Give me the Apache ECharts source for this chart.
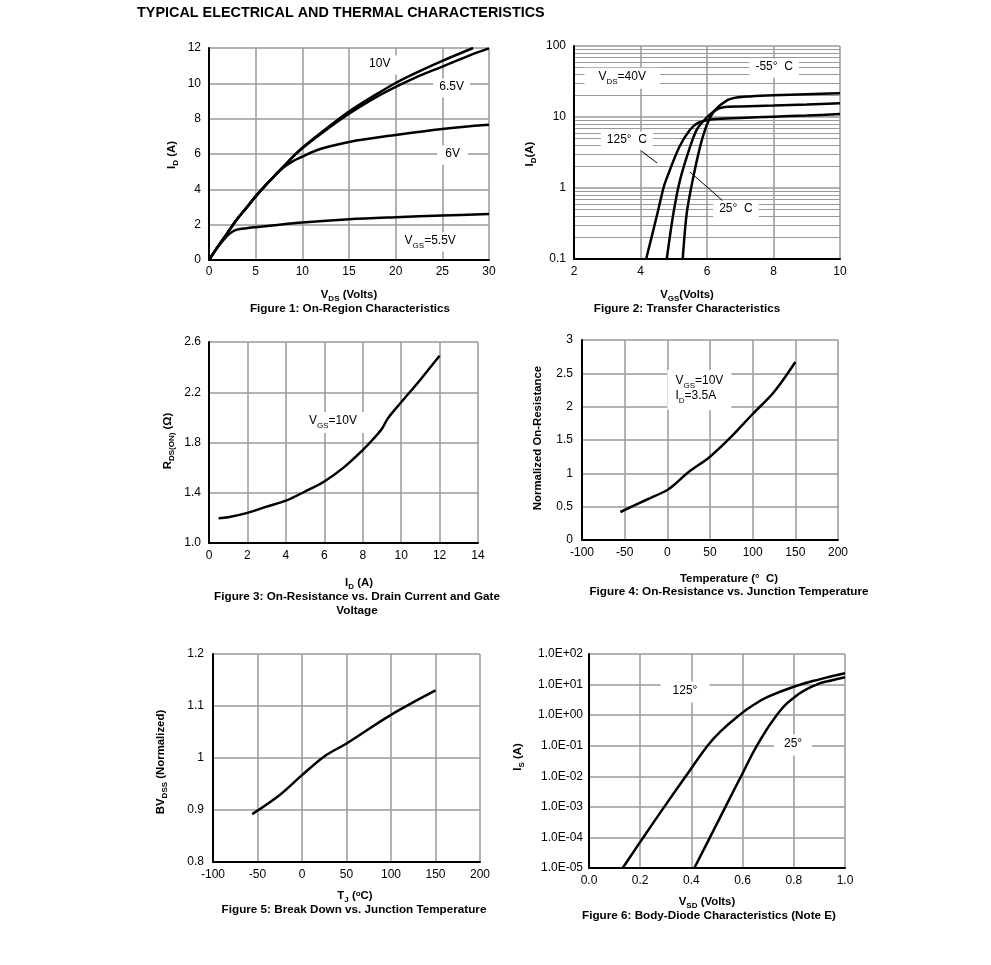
<!DOCTYPE html>
<html><head><meta charset="utf-8">
<script src="https://cdn.jsdelivr.net/npm/echarts@6/dist/echarts.min.js"></script>
<style>html,body{margin:0;padding:0;background:#fff}#c{width:991px;height:965px}</style>
</head><body><div id="c"></div>
<script>
// ---------------- DATA ----------------
// Figure 1: On-Region Characteristics  [VDS (V), ID (A)]
const f1_vgs10 = [[0,0],[1,0.8],[2,1.55],[3,2.3],[4,2.95],[5,3.6],[6,4.2],[7,4.75],[8,5.3],[9,5.85],[10,6.35],[12,7.2],[15,8.4],[18,9.4],[20,10.02],[22,10.55],[25,11.27],[28.3,12]];
const f1_vgs65 = [[0,0],[1,0.8],[2,1.55],[3,2.3],[4,2.95],[5,3.6],[6,4.2],[7,4.75],[8,5.3],[9,5.85],[10,6.33],[12,7.15],[15,8.28],[18,9.25],[20,9.8],[22,10.3],[25,10.95],[28,11.6],[30,11.98]];
const f1_vgs6  = [[0,0],[1,0.8],[2,1.55],[3,2.3],[4,2.95],[5,3.6],[6,4.2],[7,4.75],[8,5.25],[9,5.6],[10,5.85],[11,6.1],[12,6.3],[15,6.68],[20,7.08],[25,7.42],[30,7.65]];
const f1_vgs55 = [[0,0],[1,0.78],[2,1.4],[2.5,1.6],[3,1.72],[4,1.8],[5,1.86],[7,1.97],[10,2.12],[15,2.3],[20,2.42],[25,2.52],[30,2.6]];
// Figure 2: Transfer Characteristics [VGS (V), ID (A)]
const f2_m55 = [[5.27,0.1],[5.39,0.44],[5.57,1.3],[5.79,3.8],[5.94,6.6],[6.07,9.3],[6.24,12.5],[6.59,17.0],[6.89,18.8],[7.3,19.5],[8,20.2],[9,20.9],[10,21.6]];
const f2_25  = [[4.79,0.1],[4.99,0.44],[5.19,1.3],[5.49,3.8],[5.69,6.6],[5.94,9.3],[6.24,12.3],[6.49,13.7],[7,14.1],[8,14.5],[9,15.0],[10,15.6]];
const f2_125 = [[4.17,0.1],[4.51,0.44],[4.69,1],[4.77,1.3],[5.17,3.8],[5.49,6.6],[5.74,8.3],[6.18,9.3],[7,9.7],[8,10.1],[9,10.5],[10,11.0]];
const f2_minorGrid = [0.2,0.3,0.4,0.5,0.6,0.7,0.8,0.9,2,3,4,5,6,7,8,9,20,30,40,50,60,70,80,90];
const f2_yTicks = {'-1':'0.1','0':'1','1':'10','2':'100'};
// Figure 3: On-Resistance vs Drain Current [ID (A), RDS(ON) (ohm)]
const f3_rds = [[0.5,1.197],[1,1.205],[2,1.24],[3,1.29],[4,1.337],[5,1.41],[6,1.49],[7,1.6],[8,1.74],[8.5,1.82],[9,1.91],[9.3,1.99],[10,2.12],[11,2.3],[12,2.49]];
// Figure 4: Normalized On-Resistance vs Temperature
const f4_ron = [[-55,0.42],[-25,0.6],[0,0.75],[10,0.85],[25,1.02],[50,1.25],[75,1.55],[100,1.89],[125,2.22],[150,2.67]];
// Figure 5: BVDSS vs Junction Temperature
const f5_bv = [[-56,0.892],[-25,0.929],[0,0.967],[25,1.003],[50,1.028],[100,1.083],[150,1.13]];
// Figure 6: Body-Diode Characteristics [VSD (V), IS (A)]
const f6_125 = [[0.1316,1e-5],[0.212,1e-4],[0.294,1e-3],[0.378,1e-2],[0.463,1e-1],[0.515,0.3],[0.587,1],[0.642,2.14],[0.70,4.02],[0.8,8.5],[0.9,14.8],[1.0,23.4]];
const f6_25  = [[0.4115,1e-5],[0.4725,1e-4],[0.533,1e-3],[0.594,1e-2],[0.656,1e-1],[0.733,1],[0.805,4.02],[0.889,10],[0.95,13.8],[1.0,17.3]];
const f6_yTicks = {'-5':'1.0E-05','-4':'1.0E-04','-3':'1.0E-03','-2':'1.0E-02','-1':'1.0E-01','0':'1.0E+00','1':'1.0E+01','2':'1.0E+02'};

// ---------------- STYLE ----------------
const FONT = '"Liberation Sans", Arial, Helvetica, sans-serif';
const GRID_C = '#999';
const NAME_FS = 11.4;
const CAP_FS = 11.7;
const richN = {
  n:{fontFamily:FONT,fontSize:12,color:'#000',verticalAlign:'bottom',padding:[0,0,3,0]},
  s:{fontFamily:FONT,fontSize:8,color:'#000',verticalAlign:'bottom'}
};
function gRich(){
  return {
    n:{fontFamily:FONT,fontSize:NAME_FS,fontWeight:'bold',fill:'#000',verticalAlign:'bottom',padding:[0,0,3,0]},
    s:{fontFamily:FONT,fontSize:8,fontWeight:'bold',fill:'#000',verticalAlign:'bottom'},
    u:{fontFamily:FONT,fontSize:8,fontWeight:'bold',fill:'#000',verticalAlign:'top'}
  };
}
const grids = [
  {left:209, top:48, width:280, height:212},
  {left:574, top:46, width:266, height:213},
  {left:209, top:342, width:269, height:201},
  {left:582, top:340, width:256, height:200},
  {left:213, top:654, width:267, height:208},
  {left:589, top:654, width:256, height:214}
];
function lbl(margin, fmt){
  const o = {fontFamily:FONT, fontSize:12, color:'#000', margin:margin};
  if (fmt) o.formatter = fmt;
  return o;
}
function axisBase(gi, min, max, extra){
  return Object.assign({
    gridIndex:gi, type:'value', min:min, max:max,
    axisLine:{show:true, onZero:false, lineStyle:{color:'#000', width:2}},
    axisTick:{show:false},
    splitLine:{show:true, lineStyle:{color:GRID_C, width:1.5}},
    axisLabel:lbl(8),
    z:1
  }, extra||{});
}
const xAxes = [
  axisBase(0,0,30,{interval:5, axisLabel:lbl(6)}),
  axisBase(1,2,10,{interval:2, axisLabel:lbl(7)}),
  axisBase(2,0,14,{interval:2, axisLabel:lbl(7)}),
  axisBase(3,-100,200,{interval:50, axisLabel:lbl(7)}),
  axisBase(4,-100,200,{interval:50, axisLabel:lbl(7)}),
  axisBase(5,0,1,{interval:0.2, axisLabel:lbl(7, v=>v.toFixed(1))})
];
const yAxes = [
  axisBase(0,0,12,{interval:2}),
  axisBase(1,0.1,100,{type:'log', logBase:10, splitNumber:3,
     axisLabel:lbl(8, v=>f2_yTicks[String(Math.round(Math.log10(v)))])}),
  axisBase(2,1.0,2.6,{interval:0.4, axisLabel:lbl(8, v=>v.toFixed(1))}),
  axisBase(3,0,3,{interval:0.5, axisLabel:lbl(9)}),
  axisBase(4,0.8,1.2,{interval:0.1, axisLabel:lbl(9)}),
  axisBase(5,1e-5,100,{type:'log', logBase:10, splitNumber:7,
     axisLabel:lbl(6, v=>f6_yTicks[String(Math.round(Math.log10(v)))])})
];

function curve(gi, data, sm){
  return {type:'line', xAxisIndex:gi, yAxisIndex:gi, data:data, showSymbol:false, symbol:'none',
    smooth:sm==null?0.35:sm, lineStyle:{color:'#000', width:2.5}, silent:true, z:6, clip:true};
}
function lab(coord, text, pad, pos){
  return {coord:coord, symbol:'circle', symbolSize:1, itemStyle:{color:'rgba(0,0,0,0)'},
    label:{show:true, position:pos||'inside', distance:0, formatter:text, backgroundColor:'#fff',
      padding:pad||[2,6], rich:richN, fontFamily:FONT, fontSize:12, color:'#000', align:pos==='right'?'left':'center'}};
}
function annot(gi, labels, lines, z){
  const s = {type:'line', xAxisIndex:gi, yAxisIndex:gi, data:[], silent:true, z:z||3};
  if (labels) s.markPoint = {silent:true, animation:false, data:labels, z:5};
  if (lines) s.markLine = lines;
  return s;
}

const series = [
  // Figure 1
  annot(0,[
    lab([18.3,11.04],'{n|10V}',[2,10]),
    lab([26.0,9.74],'{n|6.5V}',[2,6]),
    lab([26.1,5.94],'{n|6V}',[2,8]),
    lab([23.7,1.02],'{n|V}{s|GS}{n|=5.5V}',[2,4])
  ]),
  curve(0,f1_vgs10), curve(0,f1_vgs65), curve(0,f1_vgs6), curve(0,f1_vgs55),
  // Figure 2
  annot(1,null,{silent:true, symbol:'none', animation:false, label:{show:false}, z:1,
     lineStyle:{color:GRID_C, width:1, type:'solid'}, emphasis:{disabled:true},
     data:f2_minorGrid.map(v=>({yAxis:v}))}, 1),
  annot(1,[
    lab([3.45,35],'{n|V}{s|DS}{n|=40V}',[3,14]),
    lab([8.02,49],'{n|-55°  C}',[2,6]),
    lab([3.59,4.6],'{n|125°  C}',[2,6]),
    lab([6.87,0.49],'{n|25°  C}',[2,6])
  ],{silent:true, animation:false, symbol:['none','arrow'], symbolSize:[0,8], label:{show:false}, z:5,
     lineStyle:{color:'#000', width:1, type:'solid'}, emphasis:{disabled:true},
     data:[[{coord:[3.86,3.8]},{coord:[4.5,2.25]}],[{coord:[6.48,0.656]},{coord:[5.49,1.68]}]]}),
  curve(1,f2_m55,0.3), curve(1,f2_25,0.3), curve(1,f2_125,0.3),
  // Figure 3
  annot(2,[lab([6.45,1.96],'{n|V}{s|GS}{n|=10V}',[3,8])]),
  curve(2,f3_rds),
  // Figure 4
  annot(3,[lab([-0.5,2.25],'{n|V}{s|GS}{n|=10V}\n{n|I}{s|D}{n|=3.5A}',[5,8],'right')]),
  curve(3,f4_ron),
  // Figure 5
  curve(4,f5_bv),
  // Figure 6
  annot(5,[
    lab([0.375,5.7],'{n|125°}',[3,12]),
    lab([0.797,0.105],'{n|25°}',[3,10])
  ]),
  curve(5,f6_125,0.45), curve(5,f6_25,0.45)
];

function gtext(x,y,text,opts,fs){
  return Object.assign({type:'text', x:x, y:y, silent:true,
    style:{text:text, fontFamily:FONT, fontSize:fs||NAME_FS, fontWeight:'bold', fill:'#000', align:'center', verticalAlign:'middle', rich:gRich()}}, opts||{});
}
const R = Math.PI/2;
const graphics = [
  {type:'text', left:137, top:6, silent:true, style:{text:'TYPICAL ELECTRICAL AND THERMAL CHARACTERISTICS', fontFamily:FONT, fontSize:14.4, fontWeight:'bold', fill:'#000'}},
  // Fig 1
  gtext(349,296,'{n|V}{s|DS}{n| (Volts)}'),
  gtext(350,309,'Figure 1: On-Region Characteristics',null,CAP_FS),
  gtext(173,155,'{n|I}{s|D}{n| (A)}',{rotation:R}),
  // Fig 2
  gtext(687,296,'{n|V}{s|GS}{n|(Volts)}'),
  gtext(687,309,'Figure 2: Transfer Characteristics',null,CAP_FS),
  gtext(531,154,'{n|I}{s|D}{n|(A)}',{rotation:R}),
  // Fig 3
  gtext(359,584,'{n|I}{s|D}{n| (A)}'),
  gtext(357,597,'Figure 3: On-Resistance vs. Drain Current and Gate',null,CAP_FS),
  gtext(357,611,'Voltage',null,CAP_FS),
  gtext(169,441,'{n|R}{s|DS(ON)}{n| (Ω)}',{rotation:R}),
  // Fig 4
  gtext(729,579,'Temperature (°  C)'),
  gtext(729,592,'Figure 4: On-Resistance vs. Junction Temperature',null,CAP_FS),
  gtext(538,438,'Normalized On-Resistance',{rotation:R}),
  // Fig 5
  gtext(355,897,'{n|T}{s|J}{n| (}{u|o}{n|C)}'),
  gtext(354,910,'Figure 5: Break Down vs. Junction Temperature',null,CAP_FS),
  gtext(162,762,'{n|BV}{s|DSS}{n| (Normalized)}',{rotation:R}),
  // Fig 6
  gtext(707,903,'{n|V}{s|SD}{n| (Volts)}'),
  gtext(709,916,'Figure 6: Body-Diode Characteristics (Note E)',null,CAP_FS),
  gtext(519,757,'{n|I}{s|S}{n| (A)}',{rotation:R})
];

const chart = echarts.init(document.getElementById('c'), null, {renderer:'canvas'});
chart.setOption({
  animation:false,
  backgroundColor:'#fff',
  grid:grids,
  xAxis:xAxes,
  yAxis:yAxes,
  series:series,
  graphic:graphics
});
</script>
</body></html>
